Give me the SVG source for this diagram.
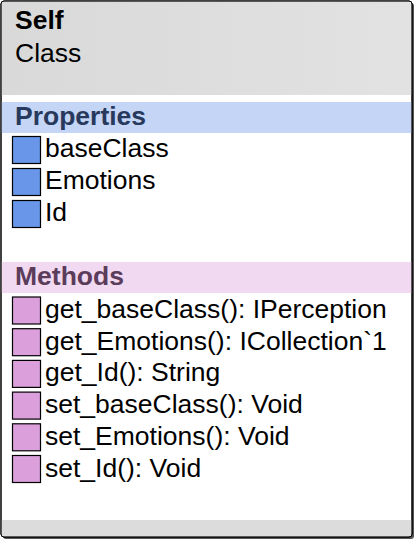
<svg xmlns="http://www.w3.org/2000/svg" width="418" height="544" viewBox="0 0 418 544">
<defs>
<linearGradient id="hdr" x1="0" y1="0" x2="1" y2="0">
<stop offset="0" stop-color="#d9d9d9"/>
<stop offset="1" stop-color="#e2e2e2"/>
</linearGradient>
<style>
text{font-family:"Liberation Sans",Arial,sans-serif;font-size:26.5px;fill:#000}
.b{font-weight:bold}
.pt{fill:#27395c}
.mt{fill:#5b3d5b}
.pi{fill:#6996e9;stroke:#000;stroke-width:1.2}
.mi{fill:#dba0dc;stroke:#000;stroke-width:1.2}
</style>
</defs>
<g id="class-Self">
<rect x="3" y="3" width="411" height="536" rx="3" fill="#555"/>
<rect x="1" y="1" width="411" height="536" rx="3" fill="#fff" stroke="#000" stroke-width="1"/>
<path d="M1.5,4 a2.5,2.5 0 0 1 2.5,-2.5 h405 a2.5,2.5 0 0 1 2.5,2.5 V95 H1.5 Z" fill="url(#hdr)"/>
<text x="15" y="29" class="b">Self</text>
<text x="15" y="62">Class</text>
<rect x="1.5" y="102" width="410" height="31" fill="#c5d5f5"/>
<text x="15" y="125" class="b pt">Properties</text>
<rect x="1.5" y="262" width="410" height="31" fill="#f1d9f1"/>
<text x="15" y="285" class="b mt">Methods</text>
<path d="M1.5,520 H411.5 V534 a2.5,2.5 0 0 1 -2.5,2.5 H4 a2.5,2.5 0 0 1 -2.5,-2.5 Z" fill="#dcdcdc"/>
<rect x="1" y="1" width="411" height="536" rx="3" fill="none" stroke="#000" stroke-width="1"/>
</g>
<g id="properties">
<rect class="pi" x="12.5" y="136.5" width="28" height="27"/>
<text x="45" y="157">baseClass</text>
<rect class="pi" x="12.5" y="168.5" width="28" height="27"/>
<text x="45" y="189">Emotions</text>
<rect class="pi" x="12.5" y="200.5" width="28" height="27"/>
<text x="45" y="221">Id</text>
</g>
<g id="methods">
<rect class="mi" x="12.5" y="297" width="28" height="27"/>
<text x="45" y="318">get_baseClass(): IPerception</text>
<rect class="mi" x="12.5" y="328.7" width="28" height="27"/>
<text x="45" y="349.7">get_Emotions(): ICollection`1</text>
<rect class="mi" x="12.5" y="360.4" width="28" height="27"/>
<text x="45" y="381.4">get_Id(): String</text>
<rect class="mi" x="12.5" y="392.1" width="28" height="27"/>
<text x="45" y="413.1">set_baseClass(): Void</text>
<rect class="mi" x="12.5" y="423.8" width="28" height="27"/>
<text x="45" y="444.8">set_Emotions(): Void</text>
<rect class="mi" x="12.5" y="455.5" width="28" height="27"/>
<text x="45" y="476.5">set_Id(): Void</text>
</g>
<g id="connectors"/>
</svg>
